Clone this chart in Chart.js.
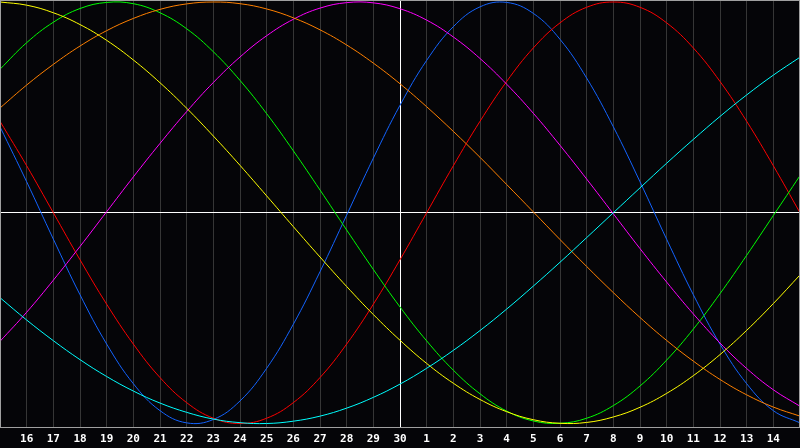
<!DOCTYPE html>
<html>
<head>
<meta charset="utf-8">
<script src="https://cdn.jsdelivr.net/npm/chart.js@4"></script>
<style>
html,body{margin:0;padding:0;background:#050508;}
#wrap{width:800px;height:448px;position:relative;}
</style>
</head>
<body>
<div id="wrap"><canvas id="c" width="800" height="448"></canvas></div>
<script>
// Day labels (k = 0..30), first and last are not printed
const dayLabels = ['15','16','17','18','19','20','21','22','23','24','25','26','27','28','29','30','1','2','3','4','5','6','7','8','9','10','11','12','13','14','15'];

// Cycle values (-1 .. 1)
const cyanSeries = [-0.403,-0.509,-0.607,-0.697,-0.777,-0.846,-0.903,-0.947,-0.979,-0.996,-1.000,-0.989,-0.965,-0.927,-0.876,-0.813,-0.738,-0.653,-0.559,-0.457,-0.348,-0.235,-0.118,0.000,0.118,0.235,0.348,0.457,0.559,0.653,0.738];
const yellowSeries = [1.000,0.985,0.949,0.893,0.818,0.725,0.617,0.496,0.364,0.225,0.080,-0.066,-0.210,-0.350,-0.483,-0.605,-0.715,-0.809,-0.886,-0.944,-0.982,-0.999,-0.995,-0.969,-0.923,-0.857,-0.773,-0.673,-0.558,-0.431,-0.295];
const orangeSeries = [0.497,0.606,0.704,0.791,0.864,0.922,0.965,0.991,1.000,0.992,0.967,0.925,0.868,0.796,0.710,0.612,0.503,0.386,0.263,0.134,0.004,-0.127,-0.255,-0.379,-0.497,-0.606,-0.704,-0.791,-0.864,-0.922,-0.965];
const magentaSeries = [-0.610,-0.472,-0.320,-0.160,0.005,0.170,0.329,0.480,0.618,0.739,0.840,0.918,0.971,0.997,0.996,0.968,0.914,0.834,0.732,0.610,0.472,0.320,0.160,-0.005,-0.170,-0.329,-0.480,-0.618,-0.739,-0.840,-0.918];
const greenSeries = [0.681,0.807,0.904,0.969,0.998,0.992,0.949,0.873,0.764,0.628,0.470,0.294,0.108,-0.082,-0.269,-0.447,-0.608,-0.747,-0.859,-0.941,-0.988,-0.999,-0.975,-0.915,-0.822,-0.699,-0.552,-0.384,-0.202,-0.013,0.176];
const redSeries = [0.434,0.223,0.000,-0.223,-0.434,-0.623,-0.782,-0.901,-0.975,-1.000,-0.975,-0.901,-0.782,-0.623,-0.434,-0.223,0.000,0.223,0.434,0.623,0.782,0.901,0.975,1.000,0.975,0.901,0.782,0.623,0.434,0.223,0.000];
const blueSeries = [0.408,0.147,-0.125,-0.389,-0.623,-0.811,-0.939,-0.997,-0.981,-0.893,-0.738,-0.529,-0.280,-0.011,0.259,0.510,0.723,0.883,0.977,0.998,0.946,0.823,0.639,0.408,0.147,-0.126,-0.389,-0.623,-0.811,-0.939,-0.997];

const centerIndex = 15;

const framePlugin = {
  id: 'frame',
  afterDraw(chart) {
    const {ctx, chartArea: a} = chart;
    ctx.save();
    ctx.strokeStyle = '#a0a0a0';
    ctx.lineWidth = 1;
    ctx.strokeRect(a.left + 0.5, a.top + 0.5, a.right - a.left - 1, a.bottom - a.top);
    ctx.restore();
  }
};

function ds(data, color) {
  return {data, borderColor: color, borderWidth: 1, pointRadius: 0, tension: 0.4, fill: false};
}

new Chart(document.getElementById('c'), {
  type: 'line',
  data: {
    labels: dayLabels,
    datasets: [
      ds(cyanSeries, '#00ffff'),
      ds(yellowSeries, '#ffff00'),
      ds(orangeSeries, '#ff8000'),
      ds(magentaSeries, '#ff00ff'),
      ds(greenSeries, '#00ff00'),
      ds(redSeries, '#ff0000'),
      ds(blueSeries, '#1464ff')
    ]
  },
  plugins: [framePlugin],
  options: {
    responsive: false,
    animation: false,
    events: [],
    layout: {padding: 0},
    plugins: {legend: {display: false}, tooltip: {enabled: false}},
    scales: {
      x: {
        type: 'category',
        offset: false,
        grid: {
          drawTicks: false,
          color: ctx => ctx.index === centerIndex ? '#ffffff' : '#363636',
          lineWidth: 1
        },
        border: {display: false},
        ticks: {
          autoSkip: false,
          maxRotation: 0,
          padding: 6,
          color: '#ffffff',
          font: {family: 'DejaVu Sans Mono', weight: 'bold', size: 11},
          callback: (v, i) => (i === 0 || i === dayLabels.length - 1) ? '' : dayLabels[i]
        },
        afterFit: s => { s.height = 21; s.paddingLeft = 0; s.paddingRight = 0; }
      },
      y: {
        min: -1.0166,
        max: 1.0095,
        afterBuildTicks: s => { s.ticks = [{value: 0}]; },
        ticks: {display: false},
        grid: {drawTicks: false, color: '#ffffff', lineWidth: 1},
        border: {display: false},
        afterFit: s => { s.width = 0; s.paddingTop = 0; s.paddingBottom = 0; }
      }
    }
  }
});
</script>
</body>
</html>
